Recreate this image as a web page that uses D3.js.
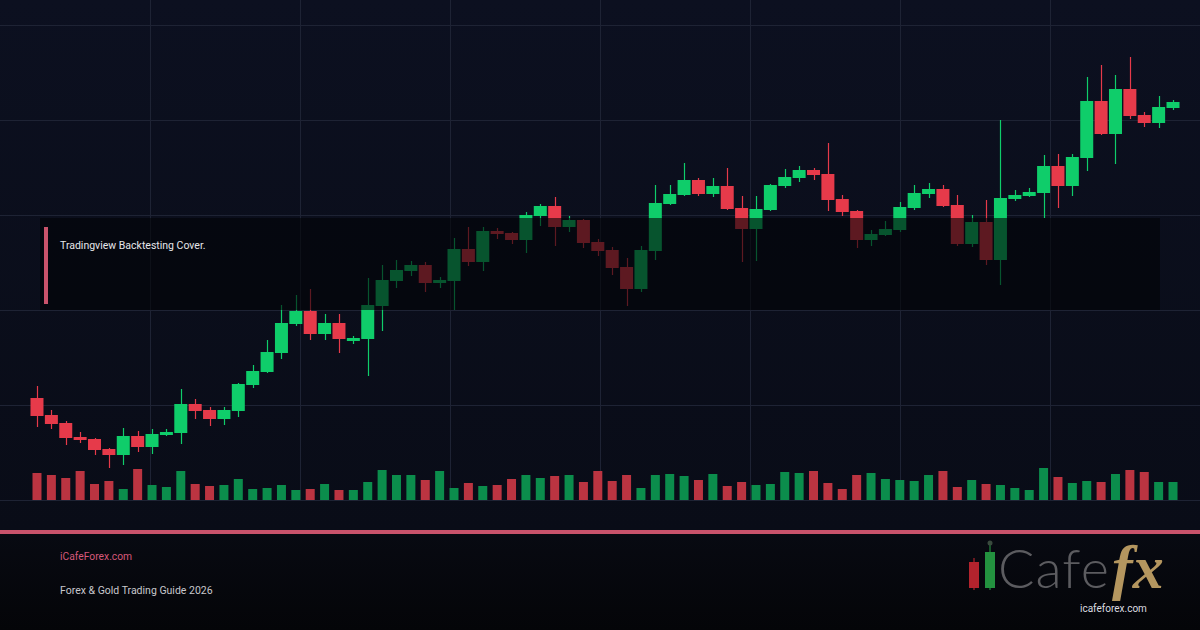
<!DOCTYPE html>
<html>
<head>
<meta charset="utf-8">
<script src="https://cdn.jsdelivr.net/npm/d3@7"></script>
<style>
  html, body { margin: 0; padding: 0; background: #070910; }
  svg { display: block; }
</style>
</head>
<body>
<svg id="chart" width="1200" height="630"></svg>
<script>
// ---- data ----
const opens  = [2204,2170,2154,2126,2122,2102,2090,2128,2106,2130,2134,2192,2180,2162,2178,2230,2256,2294,2352,2378,
                2332,2354,2318,2322,2388,2438,2458,2470,2434,2438,2502,2476,2538,2534,2520,2568,2588,2546,2560,2516,
                2500,2466,2422,2498,2592,2610,2640,2612,2628,2584,2542,2580,2628,2644,2660,2652,2602,2578,2520,2530,
                2540,2584,2612,2622,2590,2512,2556,2480,2602,2608,2614,2668,2628,2684,2798,2732,2822,2770,2754,2784];
const highs  = [2228,2180,2158,2136,2124,2104,2144,2138,2142,2142,2222,2202,2186,2186,2234,2270,2320,2390,2410,2422,
                2372,2372,2328,2444,2470,2480,2478,2476,2446,2524,2546,2546,2544,2536,2576,2592,2606,2568,2562,2522,
                2506,2484,2508,2630,2630,2674,2644,2644,2664,2608,2608,2632,2662,2668,2664,2714,2610,2580,2540,2558,
                2596,2630,2634,2630,2610,2570,2600,2760,2620,2624,2690,2692,2692,2846,2870,2850,2886,2776,2808,2800];
const lows   = [2146,2142,2110,2114,2090,2064,2070,2096,2092,2128,2112,2162,2148,2150,2166,2224,2254,2282,2348,2320,
                2320,2294,2312,2248,2338,2424,2448,2416,2424,2380,2468,2458,2522,2512,2494,2548,2508,2536,2504,2488,
                2450,2388,2416,2480,2590,2608,2608,2606,2580,2476,2478,2578,2624,2636,2640,2578,2568,2504,2508,2528,
                2536,2580,2604,2586,2508,2506,2470,2430,2598,2606,2564,2584,2608,2658,2730,2672,2762,2746,2744,2780];
const closes = [2168,2152,2124,2120,2100,2090,2128,2106,2132,2136,2192,2178,2162,2180,2232,2258,2296,2354,2378,2332,
                2354,2322,2324,2390,2440,2460,2470,2434,2440,2502,2476,2538,2532,2520,2570,2588,2546,2560,2514,2498,
                2464,2422,2500,2594,2612,2640,2612,2628,2582,2542,2582,2630,2646,2660,2650,2600,2576,2520,2532,2542,
                2586,2614,2622,2588,2512,2556,2480,2604,2610,2616,2668,2628,2686,2798,2732,2822,2768,2754,2786,2796];
const volumes = [2700,2500,2200,2900,1600,1900,1100,3100,1500,1300,2900,1600,1400,1500,2100,1100,1200,1500,1000,1100,
                 1600,1000,1000,1800,3000,2500,2500,2000,2900,1200,1700,1400,1500,2100,2500,2200,2400,2500,1800,2900,
                 1900,2500,1200,2500,2600,2400,2000,2600,1400,1800,1500,1600,2800,2700,2900,1700,1100,2500,2700,2100,
                 2000,1900,2500,2900,1300,2000,1600,1500,1200,1000,3200,2300,1700,1900,1800,2600,3000,2800,1800,1800];
const gridPrices = [2000, 2190, 2380, 2570, 2760, 2950];
const noteText = "Tradingview Backtesting Cover.";
const footerSite = "iCafeForex.com";
const footerTitle = "Forex & Gold Trading Guide 2026";
const logoWord = "Cafe";
const logoFx = "fx";
const logoUrl = "icafeforex.com";

const candles = opens.map((o, i) => ({ i, o, h: highs[i], l: lows[i], c: closes[i], v: volumes[i] }));

// ---- colours ----
const UP = "#0fcd6a", DOWN = "#e63a4a";
const VUP = "#0b8d4c", VDOWN = "#bb3441";
const PINK = "#c9536b";

const svg = d3.select("#chart");
const W = 1200, H = 630;
const defs = svg.append("defs");

const bg = defs.append("linearGradient").attr("id", "bg").attr("x1", 0).attr("y1", 0).attr("x2", 0).attr("y2", 1);
bg.append("stop").attr("offset", "0%").attr("stop-color", "#0c1020");
bg.append("stop").attr("offset", "100%").attr("stop-color", "#090c17");
const fg = defs.append("linearGradient").attr("id", "foot").attr("x1", 0).attr("y1", 0).attr("x2", 0).attr("y2", 1);
fg.append("stop").attr("offset", "0%").attr("stop-color", "#080a12");
fg.append("stop").attr("offset", "100%").attr("stop-color", "#040508");

svg.append("rect").attr("width", W).attr("height", 532).attr("fill", "url(#bg)");
svg.append("rect").attr("y", 532).attr("width", W).attr("height", H - 532).attr("fill", "url(#foot)");

// ---- scales ----
const x = d3.scaleBand().domain(candles.map(d => d.i)).range([29.8, 1180.2]).padding(0);
const y = d3.scaleLinear().domain([2000, 2950]).range([500, 25]);
const yv = d3.scaleLinear().domain([0, 5000]).range([500, 450]);
const xg = d3.scaleLinear().domain([0, 8]).range([0, 1200]);

// ---- grid ----
const grid = svg.append("g").attr("stroke", "#1e2334").attr("stroke-width", 1);
grid.selectAll("line.h").data(gridPrices).join("line")
  .attr("x1", 0).attr("x2", W)
  .attr("y1", d => Math.round(y(d)) + 0.5).attr("y2", d => Math.round(y(d)) + 0.5);
grid.selectAll("line.v").data(d3.range(1, 8)).join("line")
  .attr("y1", 0).attr("y2", 500)
  .attr("x1", d => Math.round(xg(d)) + 0.5).attr("x2", d => Math.round(xg(d)) + 0.5);

// ---- volume ----
const bw = x.bandwidth();
svg.append("g").selectAll("rect").data(candles).join("rect")
  .attr("x", d => x(d.i) + bw / 2 - 4.5)
  .attr("width", 9)
  .attr("y", d => yv(d.v))
  .attr("height", d => yv(0) - yv(d.v))
  .attr("fill", d => d.c >= d.o ? VUP : VDOWN);

// ---- candles ----
const cg = svg.append("g").selectAll("g").data(candles).join("g");
cg.append("line")
  .attr("x1", d => Math.round(x(d.i) + bw / 2) + 0.5)
  .attr("x2", d => Math.round(x(d.i) + bw / 2) + 0.5)
  .attr("y1", d => y(d.h)).attr("y2", d => y(d.l))
  .attr("stroke", d => d.c >= d.o ? UP : DOWN).attr("stroke-width", 1.2);
cg.append("rect")
  .attr("x", d => x(d.i) + bw / 2 - 6.5)
  .attr("width", 13)
  .attr("y", d => y(Math.max(d.o, d.c)))
  .attr("height", d => Math.max(1.5, Math.abs(y(d.o) - y(d.c))))
  .attr("fill", d => d.c >= d.o ? UP : DOWN);

// ---- note box overlay ----
svg.append("rect").attr("x", 40).attr("y", 218).attr("width", 1120).attr("height", 92)
  .attr("fill", "#020306").attr("fill-opacity", 0.6);
svg.append("rect").attr("x", 44).attr("y", 227).attr("width", 4).attr("height", 77).attr("fill", PINK);
svg.append("text").attr("x", 60).attr("y", 249).text(noteText)
  .attr("fill", "#e6e6ea").attr("font-family", "Roboto, sans-serif").attr("font-size", 10.5);

// ---- footer ----
svg.append("rect").attr("x", 0).attr("y", 530).attr("width", W).attr("height", 4).attr("fill", PINK);
svg.append("text").attr("x", 60).attr("y", 560).text(footerSite)
  .attr("fill", "#d6587a").attr("font-family", "Roboto, sans-serif").attr("font-size", 10.3);
svg.append("text").attr("x", 60).attr("y", 594).text(footerTitle)
  .attr("fill", "#c8c8cc").attr("font-family", "Roboto, sans-serif").attr("font-size", 10.5);

// ---- logo ----
const logo = svg.append("g");
logo.append("line").attr("x1", 974).attr("x2", 974).attr("y1", 558).attr("y2", 590).attr("stroke", "#8a1c24").attr("stroke-width", 1.5);
logo.append("rect").attr("x", 969).attr("y", 562).attr("width", 10).attr("height", 26).attr("fill", "#b3232d");
logo.append("line").attr("x1", 990).attr("x2", 990).attr("y1", 543).attr("y2", 590).attr("stroke", "#1c6e32").attr("stroke-width", 1.5);
logo.append("circle").attr("cx", 990).attr("cy", 543).attr("r", 2.5).attr("fill", "#3a4a3e");
logo.append("rect").attr("x", 985).attr("y", 552).attr("width", 10).attr("height", 36).attr("fill", "#23923f");
logo.append("text").attr("x", 998).attr("y", 588).text(logoWord)
  .attr("fill", "#5c5c60").attr("font-family", "Lato, 'Open Sans', sans-serif").attr("font-weight", 300)
  .attr("font-size", 54).attr("letter-spacing", 1);
logo.append("text").attr("x", 1112).attr("y", 588).text(logoFx)
  .attr("fill", "#b4965f").attr("font-family", "'Liberation Serif', serif").attr("font-style", "italic").attr("font-weight", 700).attr("font-size", 62);
logo.append("text").attr("x", 1080).attr("y", 612).text(logoUrl)
  .attr("fill", "#dcdce0").attr("font-family", "Roboto, sans-serif").attr("font-size", 10);
</script>
</body>
</html>
